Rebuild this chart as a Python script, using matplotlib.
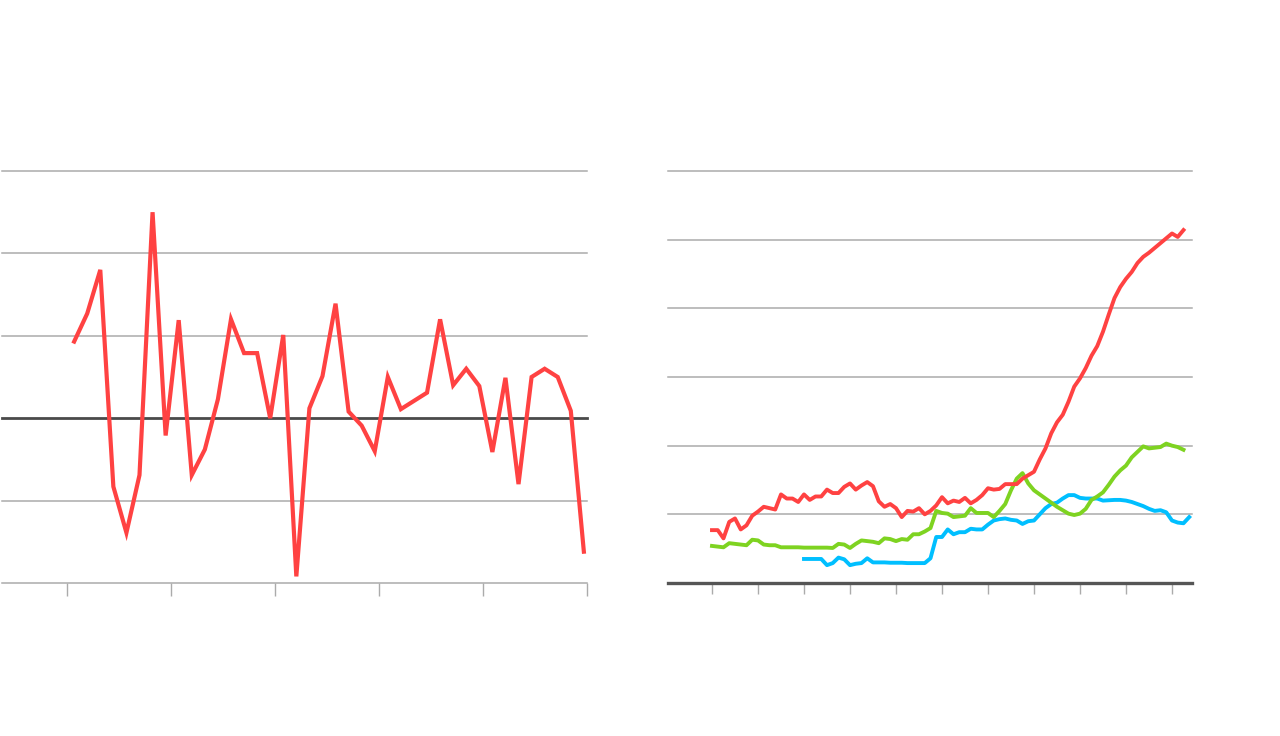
import matplotlib
matplotlib.use("Agg")
import matplotlib.pyplot as plt

# ---------------- data ----------------
# Left panel: single red series (40 periods)
left_values = [9.3, 12.7, 18.0, -8.3, -13.9, -6.9, 25.0, -2.1, 11.9, -6.9,
               -3.8, 2.3, 12.0, 7.9, 7.9, 0.0, 10.1, -19.2, 1.2, 5.1,
               13.9, 0.8, -0.9, -4.0, 5.0, 1.1, 2.1, 3.1, 12.0, 4.0,
               6.0, 3.9, -4.1, 4.9, -8.0, 5.0, 6.0, 5.0, 0.9, -16.2]
left_grid = [-20, -10, 10, 20, 30]

# Right panel: three series (quarterly)
red_values = [7.7, 7.7, 6.5, 8.9, 9.4, 7.8, 8.4, 9.8, 10.4, 11.1,
              10.9, 10.7, 12.9, 12.3, 12.3, 11.8, 12.9, 12.1, 12.6, 12.6,
              13.6, 13.1, 13.1, 14.0, 14.5, 13.6, 14.2, 14.7, 14.1, 11.9,
              11.1, 11.5, 10.9, 9.6, 10.5, 10.4, 10.9, 10.0, 10.5, 11.3,
              12.5, 11.6, 12.0, 11.8, 12.4, 11.6, 12.1, 12.8, 13.8, 13.6,
              13.7, 14.4, 14.4, 14.4, 15.2, 15.7, 16.2, 18.0, 19.6, 21.8,
              23.4, 24.5, 26.4, 28.6, 29.8, 31.3, 33.1, 34.5, 36.6, 39.1,
              41.5, 43.1, 44.3, 45.3, 46.6, 47.5, 48.1, 48.8, 49.5, 50.2,
              50.9, 50.4, 51.4]

green_values = [5.4, 5.3, 5.2, 5.8, 5.7, 5.6, 5.5, 6.3, 6.2, 5.6,
                5.5, 5.5, 5.2, 5.2, 5.2, 5.2, 5.15, 5.15, 5.15, 5.15,
                5.15, 5.1, 5.7, 5.6, 5.1, 5.7, 6.2, 6.1, 6.0, 5.8,
                6.5, 6.4, 6.1, 6.4, 6.3, 7.1, 7.1, 7.5, 8.0, 10.5,
                10.2, 10.1, 9.6, 9.7, 9.8, 10.9, 10.2, 10.2, 10.2, 9.6,
                10.5, 11.5, 13.5, 15.2, 16.0, 14.5, 13.5, 12.9, 12.3, 11.7,
                11.1, 10.6, 10.1, 9.9, 10.1, 10.8, 12.1, 12.6, 13.2, 14.3,
                15.5, 16.4, 17.1, 18.3, 19.1, 19.9, 19.6, 19.7, 19.8, 20.3,
                20.0, 19.8, 19.4]

blue_start = 16
blue_values = [3.5, 3.5, 3.5, 3.5,
               2.6, 2.9, 3.7, 3.45, 2.6, 2.8, 2.9, 3.6, 3.0, 3.0,
               3.0, 2.95, 2.95, 2.95, 2.9, 2.9, 2.9, 2.9, 3.6, 6.7,
               6.7, 7.8, 7.1, 7.4, 7.4, 7.9, 7.8, 7.8, 8.5, 9.1,
               9.3, 9.4, 9.2, 9.1, 8.6, 9.0, 9.1, 10.0, 10.9, 11.5,
               11.7, 12.3, 12.8, 12.8, 12.4, 12.3, 12.3, 12.3, 12.0, 12.05,
               12.1, 12.1, 12.0, 11.8, 11.5, 11.2, 10.8, 10.5, 10.6, 10.3,
               9.1, 8.8, 8.7, 9.6]
right_grid = [10, 20, 30, 40, 50, 60]

# ---------------- style ----------------
RED = "#ff4242"
GREEN = "#7ed321"
BLUE = "#00bfff"
GRID = "#ababab"
DARK = "#4a4a4a"

fig = plt.figure(figsize=(12.8, 7.36), dpi=100)
fig.patch.set_facecolor("white")

# ---------- left panel ----------
axL = fig.add_axes([2 / 1280, 153 / 736, 585 / 1280, 412 / 736])
xl = list(range(len(left_values)))
axL.set_xlim(-5.52, 39.24)
axL.set_ylim(-20, 30)
for g in left_grid:
    axL.axhline(g, color=GRID, linewidth=1.1, zorder=1, clip_on=False)
axL.axhline(0, color=DARK, linewidth=2.0, zorder=2, clip_on=False)
axL.plot(xl, left_values, color=RED, linewidth=3.0, zorder=3,
         solid_joinstyle="miter", clip_on=False)
axL.set_xticks([-0.56 + 7.96 * k for k in range(6)])
axL.set_yticks([])
axL.tick_params(axis="x", length=9.5, width=1.0, color=GRID,
                labelbottom=False, direction="out")
for s in axL.spines.values():
    s.set_visible(False)
axL.patch.set_alpha(0)

# ---------- right panel ----------
axR = fig.add_axes([668 / 1280, 153 / 736, 524 / 1280, 412 / 736])
axR.set_xlim(-7.65, 83.48)
axR.set_ylim(0, 60)
for g in right_grid:
    axR.axhline(g, color=GRID, linewidth=1.1, zorder=1, clip_on=False)
axR.axhline(0, color="#555555", linewidth=2.4, zorder=2, clip_on=False)
xr = list(range(len(red_values)))
xg = list(range(len(green_values)))
xb = list(range(blue_start, blue_start + len(blue_values)))
axR.plot(xb, blue_values, color=BLUE, linewidth=2.8, zorder=3)
axR.plot(xg, green_values, color=GREEN, linewidth=2.8, zorder=4)
axR.plot(xr, red_values, color=RED, linewidth=2.8, zorder=5)
axR.set_xticks(list(range(0, 81, 8)))
axR.set_yticks([])
axR.tick_params(axis="x", length=8, width=1.0, color=GRID,
                labelbottom=False, direction="out")
for s in axR.spines.values():
    s.set_visible(False)
axR.patch.set_alpha(0)

fig.savefig("out.png", dpi=100, facecolor="white")
